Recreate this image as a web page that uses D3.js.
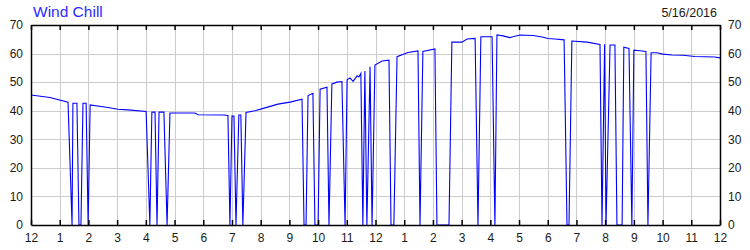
<!DOCTYPE html>
<html>
<head>
  <meta charset="UTF-8">
  <style>
    body { margin: 0; background: white; }
    svg text { font-family: Arial, "Liberation Sans", sans-serif; }
    .grid line { stroke: #cccccc; stroke-width: 1; shape-rendering: crispEdges; }
    .axis path { stroke: black; stroke-width: 1.5; }
    .axis line { stroke: black; stroke-width: 1.5; }
    .axis text { font-size: 12px; fill: #1a1a1a; }
  </style>
</head>
<body>
<div id="chart"></div>

<script src="https://d3js.org/d3.v7.min.js"></script>
<script>

// hours since midnight, and wind chill readings (0 = dropped reading)
const hours = [
  0, 0.66, 1.29, 1.43, 1.46, 1.60, 1.67, 1.74, 1.81, 1.92, 1.99, 2.06, 2.68, 3.03, 3.38, 4.01,
  4.14, 4.21, 4.32, 4.39, 4.46, 4.63, 4.74, 4.84, 5.71, 5.82, 6.72, 6.86, 6.93, 7.00, 7.07, 7.14,
  7.24, 7.31, 7.38, 7.49, 7.80, 8.15, 8.60, 9.02, 9.44, 9.51, 9.58, 9.65, 9.82, 9.89, 10.00, 10.07,
  10.31, 10.38, 10.48, 10.66, 10.83, 10.94, 11.01, 11.11, 11.22, 11.36, 11.42, 11.49, 11.56, 11.63,
  11.70, 11.81, 11.88, 11.98, 12.23, 12.47, 12.54, 12.64, 12.75, 13.13, 13.48, 13.55, 13.65, 14.07,
  14.14, 14.56, 14.66, 15.01, 15.19, 15.47, 15.57, 15.67, 16.06, 16.16, 16.23, 16.44, 16.68, 17.03,
  17.49, 17.80, 18.01, 18.25, 18.57, 18.67, 18.74, 18.84, 19.37, 19.82, 19.89, 19.98, 20.03, 20.17,
  20.34, 20.41, 20.59, 20.65, 20.83, 20.93, 21.00, 21.21, 21.42, 21.49, 21.60, 21.80, 22.01, 22.33,
  22.71, 23.13, 23.82, 24.00
];
const windChill = [
  45.5, 44.6, 43.0, 0, 42.6, 42.6, 0, 0, 42.6, 42.6, 0, 42.0, 41.1, 40.5, 40.3, 39.7,
  0, 39.5, 39.5, 0, 39.5, 39.5, 0, 39.2, 39.2, 38.6, 38.5, 38.3, 0, 38.1, 38.1, 0,
  38.5, 38.5, 0, 39.4, 40.0, 41.0, 42.3, 43.0, 44.0, 0, 0, 45.3, 46.1, 0, 0, 47.5,
  48.2, 0, 49.4, 50.0, 50.2, 0, 50.8, 51.5, 50.3, 52.2, 51.8, 53.1, 0, 53.9,
  0, 55.4, 0, 56.0, 57.4, 57.7, 0, 0, 58.9, 60.4, 60.9, 0, 60.7, 61.6,
  0, 0, 64.0, 64.0, 65.1, 65.3, 0, 65.9, 65.9, 0, 66.5, 66.2, 65.6, 66.5,
  66.3, 65.8, 65.3, 65.1, 64.8, 0, 0, 64.4, 64.0, 63.2, 0, 63.3, 0, 63.0,
  63.0, 0, 0, 62.2, 61.8, 0, 61.2, 61.0, 60.7, 0, 60.3, 60.3, 59.8, 59.5,
  59.4, 59.0, 58.8, 58.5
];

const hourLabels = ["12","1","2","3","4","5","6","7","8","9","10","11",
                    "12","1","2","3","4","5","6","7","8","9","10","11","12"];
const yTicks = [0, 10, 20, 30, 40, 50, 60, 70];
const title = "Wind Chill";
const dateLabel = "5/16/2016";

const width = 750, height = 250;
const plotL = 31, plotR = 720, plotT = 25, plotB = 225;

const svg = d3.select("#chart").append("svg")
    .attr("width", width)
    .attr("height", height);

const x = d3.scaleLinear().domain([0, 24]).range([plotL, plotR]);
const y = d3.scaleLinear().domain([0, 70]).range([plotB, plotT]);

// grid
const grid = svg.append("g").attr("class", "grid");
grid.selectAll("line.v")
    .data(d3.range(1, 24))
    .enter().append("line")
    .attr("class", "v")
    .attr("x1", d => Math.round(x(d)) + 0.5).attr("x2", d => Math.round(x(d)) + 0.5)
    .attr("y1", plotT).attr("y2", plotB);
grid.selectAll("line.h")
    .data(yTicks.slice(1, -1))
    .enter().append("line")
    .attr("class", "h")
    .attr("x1", plotL).attr("x2", plotR)
    .attr("y1", d => Math.round(y(d)) + 0.5).attr("y2", d => Math.round(y(d)) + 0.5);

// line
const line = d3.line()
    .x((d, i) => x(hours[i]))
    .y(d => y(d));

svg.append("path")
    .datum(windChill)
    .attr("fill", "none")
    .attr("stroke", "#0000ff")
    .attr("stroke-width", 1.1)
    .attr("d", line);

// axes
svg.append("g").attr("class", "axis")
    .attr("transform", `translate(0,${plotB})`)
    .call(d3.axisBottom(x).tickValues(d3.range(0, 25))
        .tickFormat((d, i) => hourLabels[i])
        .tickSizeInner(-5).tickSizeOuter(0).tickPadding(8));

svg.append("g").attr("class", "axis")
    .attr("transform", `translate(0,${plotT})`)
    .call(d3.axisTop(x).tickValues(d3.range(0, 25))
        .tickFormat("").tickSizeInner(-5).tickSizeOuter(0));

svg.append("g").attr("class", "axis")
    .attr("transform", `translate(${plotL},0)`)
    .call(d3.axisLeft(y).tickValues(yTicks).tickSize(0).tickPadding(8));

svg.append("g").attr("class", "axis")
    .attr("transform", `translate(${plotR},0)`)
    .call(d3.axisRight(y).tickValues(yTicks).tickSize(0).tickPadding(8));

// titles
svg.append("text")
    .attr("x", 33).attr("y", 17)
    .attr("fill", "#2a2aff")
    .style("font-size", "15.5px")
    .text(title);

svg.append("text")
    .attr("x", 717).attr("y", 17)
    .attr("text-anchor", "end")
    .attr("fill", "#1a1a1a")
    .style("font-size", "12.5px")
    .text(dateLabel);

</script>
</body>
</html>
